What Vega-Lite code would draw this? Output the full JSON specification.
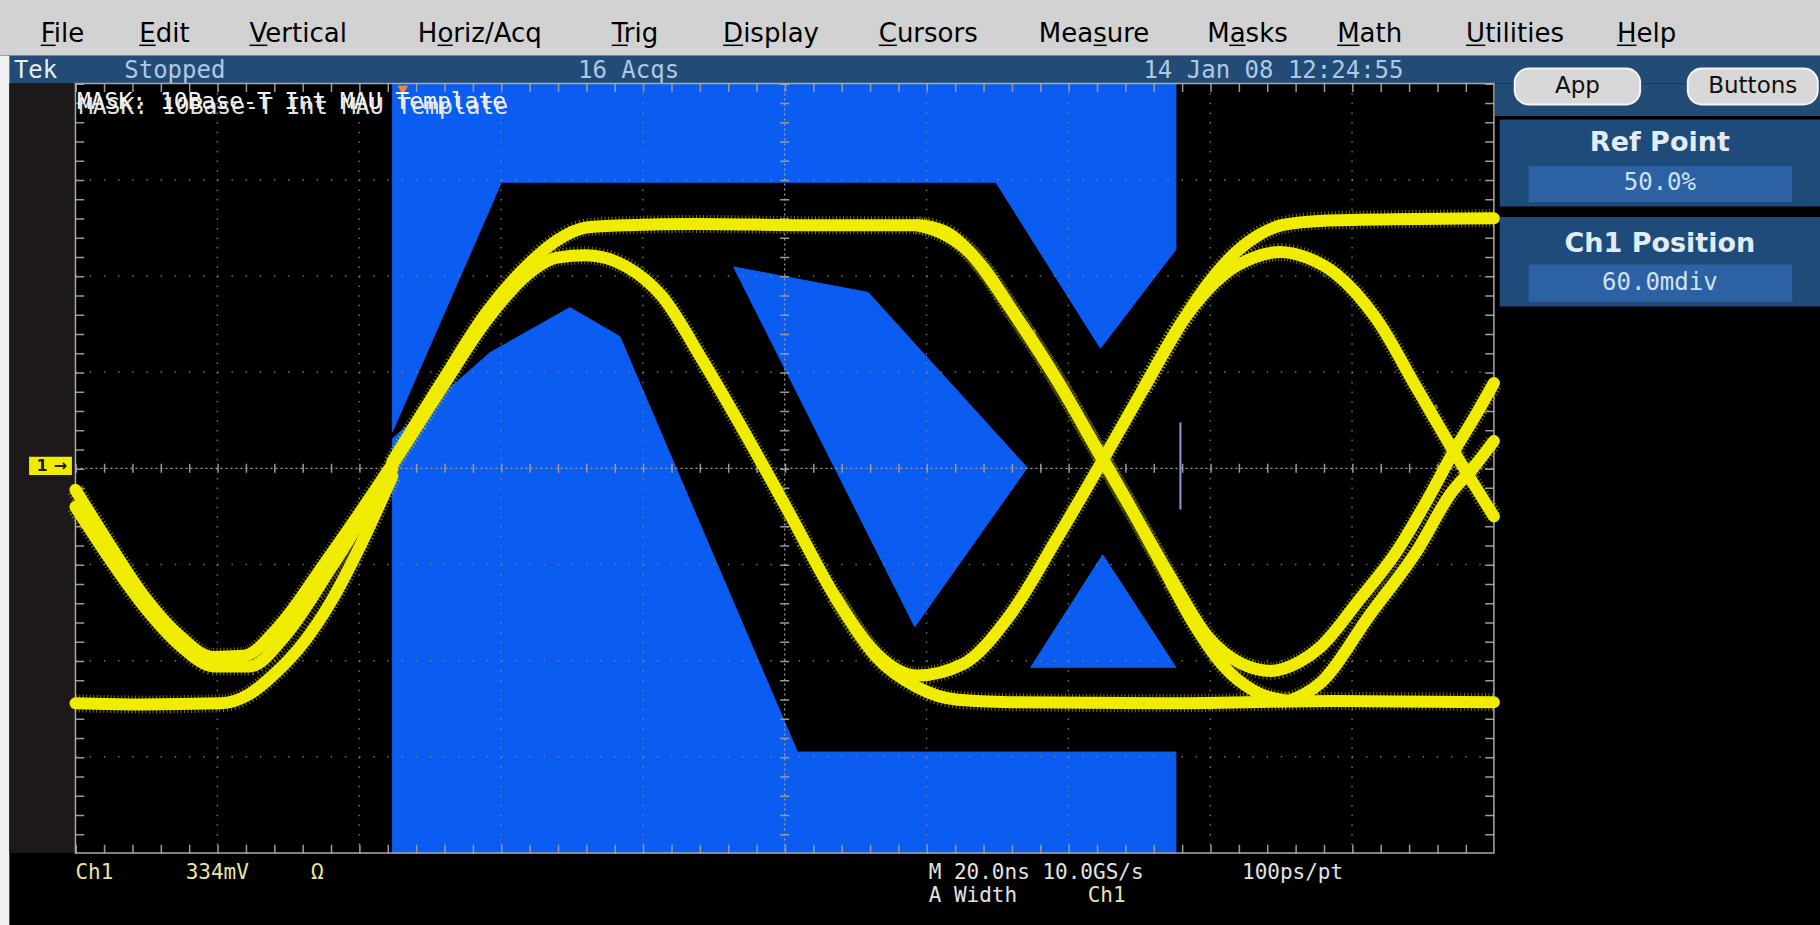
{
  "$schema": "https://vega.github.io/schema/vega-lite/v6.json",
  "width": 1820,
  "height": 925,
  "autosize": {"type": "fit", "contains": "padding"},
  "padding": 0,
  "background": "#000000",
  "config": {"view": {"stroke": null}},
  "datasets": {
    "panels": [
      {"part": "menu bar", "t": -0.532, "t2": 12.299, "v": 4.869, "v2": 4.29},
      {"part": "status bar", "t": -0.532, "t2": 12.299, "v": 4.29, "v2": 4.0},
      {"part": "button strip", "t": 10.008, "t2": 12.299, "v": 4.0, "v2": 3.662},
      {"part": "edge", "t": -0.532, "t2": -0.466, "v": 4.29, "v2": -4.748},
      {"part": "gutter", "t": -0.466, "t2": 0, "v": 4.0, "v2": -4.0},
      {"part": "Ref Point box", "t": 10.041, "t2": 12.299, "v": 3.626, "v2": 2.721},
      {"part": "Ref Point field", "t": 10.245, "t2": 12.103, "v": 3.143, "v2": 2.769},
      {"part": "Ch1 Position box", "t": 10.041, "t2": 12.299, "v": 2.612, "v2": 1.683},
      {"part": "Ch1 Position field", "t": 10.245, "t2": 12.103, "v": 2.118, "v2": 1.732}
    ],
    "pills": [
      {"button": "App", "t": 10.147, "t2": 11.031, "v": 4.157, "v2": 3.783},
      {"button": "Buttons", "t": 11.367, "t2": 12.283, "v": 4.157, "v2": 3.783}
    ],
    "mask": [
      {"shape": "upper", "i": 0, "t": 2.234, "v": 4.0},
      {"shape": "upper", "i": 1, "t": 7.758, "v": 4.0},
      {"shape": "upper", "i": 2, "t": 7.758, "v": 2.275},
      {"shape": "upper", "i": 3, "t": 7.226, "v": 1.249},
      {"shape": "upper", "i": 4, "t": 6.489, "v": 2.974},
      {"shape": "upper", "i": 5, "t": 3.003, "v": 2.974},
      {"shape": "upper", "i": 6, "t": 2.234, "v": 0.38},
      {"shape": "lower", "i": 0, "t": 2.234, "v": 0.308},
      {"shape": "lower", "i": 1, "t": 2.921, "v": 1.201},
      {"shape": "lower", "i": 2, "t": 3.486, "v": 1.671},
      {"shape": "lower", "i": 3, "t": 3.838, "v": 1.37},
      {"shape": "lower", "i": 4, "t": 5.09, "v": -2.95},
      {"shape": "lower", "i": 5, "t": 7.758, "v": -2.95},
      {"shape": "lower", "i": 6, "t": 7.758, "v": -4.0},
      {"shape": "lower", "i": 7, "t": 2.234, "v": -4.0},
      {"shape": "kite", "i": 0, "t": 4.64, "v": 2.094},
      {"shape": "kite", "i": 1, "t": 5.589, "v": 1.828},
      {"shape": "kite", "i": 2, "t": 6.71, "v": 0.006},
      {"shape": "kite", "i": 3, "t": 5.917, "v": -1.647},
      {"shape": "triangle", "i": 0, "t": 6.735, "v": -2.069},
      {"shape": "triangle", "i": 1, "t": 7.242, "v": -0.899},
      {"shape": "triangle", "i": 2, "t": 7.758, "v": -2.069}
    ],
    "traces": [
      {"s": "a", "t": 0, "v": -0.223}, {"s": "a", "t": 0.245, "v": -0.802}, {"s": "a", "t": 0.491, "v": -1.345}, {"s": "a", "t": 0.736, "v": -1.744}, {"s": "a", "t": 0.966, "v": -1.961}, {"s": "a", "t": 1.187, "v": -1.949}, {"s": "a", "t": 1.432, "v": -1.647}, {"s": "a", "t": 1.759, "v": -0.984}, {"s": "a", "t": 2.234, "v": 0.042}, {"s": "a", "t": 2.578, "v": 0.827}, {"s": "a", "t": 2.905, "v": 1.551}, {"s": "a", "t": 3.191, "v": 2.021}, {"s": "a", "t": 3.396, "v": 2.19}, {"s": "a", "t": 3.601, "v": 2.214}, {"s": "a", "t": 3.887, "v": 2.094}, {"s": "a", "t": 4.133, "v": 1.792}, {"s": "a", "t": 4.419, "v": 1.128}, {"s": "a", "t": 4.705, "v": 0.404}, {"s": "a", "t": 5.033, "v": -0.465}, {"s": "a", "t": 5.36, "v": -1.345}, {"s": "a", "t": 5.646, "v": -1.925}, {"s": "a", "t": 5.933, "v": -2.154}, {"s": "a", "t": 6.26, "v": -2.033}, {"s": "a", "t": 6.588, "v": -1.526}, {"s": "a", "t": 6.915, "v": -0.742}, {"s": "a", "t": 7.226, "v": 0.042}, {"s": "a", "t": 7.529, "v": 0.827}, {"s": "a", "t": 7.815, "v": 1.551}, {"s": "a", "t": 8.101, "v": 2.021}, {"s": "a", "t": 8.306, "v": 2.19}, {"s": "a", "t": 8.494, "v": 2.25}, {"s": "a", "t": 8.682, "v": 2.19}, {"s": "a", "t": 8.887, "v": 2.021}, {"s": "a", "t": 9.173, "v": 1.551}, {"s": "a", "t": 9.459, "v": 0.827}, {"s": "a", "t": 9.74, "v": 0.12}, {"s": "a", "t": 10.0, "v": -0.5},
      {"s": "b", "t": 0, "v": -0.4}, {"s": "b", "t": 0.245, "v": -0.95}, {"s": "b", "t": 0.491, "v": -1.45}, {"s": "b", "t": 0.736, "v": -1.84}, {"s": "b", "t": 0.982, "v": -2.06}, {"s": "b", "t": 1.227, "v": -2.06}, {"s": "b", "t": 1.473, "v": -1.75}, {"s": "b", "t": 1.8, "v": -1.04}, {"s": "b", "t": 2.234, "v": 0.0},
      {"s": "c", "t": 0, "v": -2.443}, {"s": "c", "t": 0.45, "v": -2.455}, {"s": "c", "t": 1.023, "v": -2.443}, {"s": "c", "t": 1.227, "v": -2.347}, {"s": "c", "t": 1.391, "v": -2.154}, {"s": "c", "t": 1.612, "v": -1.804}, {"s": "c", "t": 1.8, "v": -1.39}, {"s": "c", "t": 2.01, "v": -0.8}, {"s": "c", "t": 2.234, "v": -0.08},
      {"s": "d", "t": 2.234, "v": 0.066}, {"s": "d", "t": 2.578, "v": 0.887}, {"s": "d", "t": 2.905, "v": 1.635}, {"s": "d", "t": 3.191, "v": 2.118}, {"s": "d", "t": 3.396, "v": 2.371}, {"s": "d", "t": 3.601, "v": 2.504}, {"s": "d", "t": 3.887, "v": 2.528}, {"s": "d", "t": 4.378, "v": 2.54}, {"s": "d", "t": 5.196, "v": 2.528}, {"s": "d", "t": 5.933, "v": 2.528}, {"s": "d", "t": 6.137, "v": 2.455}, {"s": "d", "t": 6.383, "v": 2.118}, {"s": "d", "t": 6.669, "v": 1.49}, {"s": "d", "t": 6.956, "v": 0.827}, {"s": "d", "t": 7.226, "v": 0.127}, {"s": "d", "t": 7.488, "v": -0.537}, {"s": "d", "t": 7.733, "v": -1.164}, {"s": "d", "t": 7.979, "v": -1.744}, {"s": "d", "t": 8.224, "v": -2.033}, {"s": "d", "t": 8.429, "v": -2.106}, {"s": "d", "t": 8.633, "v": -2.009}, {"s": "d", "t": 8.781, "v": -1.852}, {"s": "d", "t": 9.043, "v": -1.382}, {"s": "d", "t": 9.321, "v": -0.851}, {"s": "d", "t": 9.534, "v": -0.32}, {"s": "d", "t": 9.722, "v": 0.187}, {"s": "d", "t": 9.861, "v": 0.525}, {"s": "d", "t": 10.0, "v": 0.887},
      {"s": "e", "t": 5.36, "v": -1.345}, {"s": "e", "t": 5.646, "v": -1.961}, {"s": "e", "t": 5.933, "v": -2.275}, {"s": "e", "t": 6.219, "v": -2.407}, {"s": "e", "t": 6.588, "v": -2.431}, {"s": "e", "t": 7.651, "v": -2.443}, {"s": "e", "t": 8.879, "v": -2.419}, {"s": "e", "t": 10.0, "v": -2.431},
      {"s": "f", "t": 5.933, "v": 2.528}, {"s": "f", "t": 6.1, "v": 2.45}, {"s": "f", "t": 6.3, "v": 2.25}, {"s": "f", "t": 6.571, "v": 1.707}, {"s": "f", "t": 6.874, "v": 1.032}, {"s": "f", "t": 7.16, "v": 0.308}, {"s": "f", "t": 7.406, "v": -0.32}, {"s": "f", "t": 7.651, "v": -0.984}, {"s": "f", "t": 7.897, "v": -1.647}, {"s": "f", "t": 8.101, "v": -2.069}, {"s": "f", "t": 8.306, "v": -2.311}, {"s": "f", "t": 8.552, "v": -2.419},
      {"s": "g", "t": 8.552, "v": -2.419}, {"s": "g", "t": 8.781, "v": -2.226}, {"s": "g", "t": 9.124, "v": -1.526}, {"s": "g", "t": 9.46, "v": -0.851}, {"s": "g", "t": 9.697, "v": -0.259}, {"s": "g", "t": 9.861, "v": 0.018}, {"s": "g", "t": 10.0, "v": 0.284},
      {"s": "h", "t": 7.529, "v": 0.827}, {"s": "h", "t": 7.815, "v": 1.551}, {"s": "h", "t": 8.0, "v": 1.95}, {"s": "h", "t": 8.183, "v": 2.25}, {"s": "h", "t": 8.347, "v": 2.43}, {"s": "h", "t": 8.511, "v": 2.53}, {"s": "h", "t": 8.797, "v": 2.575}, {"s": "h", "t": 9.288, "v": 2.59}, {"s": "h", "t": 10.0, "v": 2.6}
    ],
    "gridV": [
      {"t": 1, "v": 4, "t2": 1, "v2": -4}, {"t": 2, "v": 4, "t2": 2, "v2": -4}, {"t": 3, "v": 4, "t2": 3, "v2": -4}, {"t": 4, "v": 4, "t2": 4, "v2": -4},
      {"t": 6, "v": 4, "t2": 6, "v2": -4}, {"t": 7, "v": 4, "t2": 7, "v2": -4}, {"t": 8, "v": 4, "t2": 8, "v2": -4}, {"t": 9, "v": 4, "t2": 9, "v2": -4}
    ],
    "gridH": [
      {"t": 0, "v": 3, "t2": 10, "v2": 3}, {"t": 0, "v": 2, "t2": 10, "v2": 2}, {"t": 0, "v": 1, "t2": 10, "v2": 1},
      {"t": 0, "v": -1, "t2": 10, "v2": -1}, {"t": 0, "v": -2, "t2": 10, "v2": -2}, {"t": 0, "v": -3, "t2": 10, "v2": -3}
    ],
    "center": [
      {"t": 5, "v": 4, "t2": 5, "v2": -4},
      {"t": 0, "v": 0, "t2": 10, "v2": 0}
    ],
    "ticksH": [
      {"t": 0, "v": 0, "t2": 10, "v2": 0},
      {"t": 0, "v": 3.96, "t2": 10, "v2": 3.96},
      {"t": 0, "v": -3.96, "t2": 10, "v2": -3.96}
    ],
    "ticksV": [
      {"t": 5, "v": 4, "t2": 5, "v2": -4},
      {"t": 0.03, "v": 4, "t2": 0.03, "v2": -4},
      {"t": 9.97, "v": 4, "t2": 9.97, "v2": -4}
    ],
    "frame": [{"t": 0, "t2": 10, "v": 4, "v2": -4}],
    "cursor": [{"t": 7.79, "v": 0.477, "t2": 7.79, "v2": -0.428}],
    "trigger": [{"t": 2.308, "v": 3.93}],
    "marker": [{"t": -0.327, "t2": -0.025, "v": 0.12, "v2": -0.07}],
    "underlines": [
      {"t": -0.245, "t2": -0.14, "v": 4.398, "v2": 4.398},
      {"t": 0.45, "t2": 0.565, "v": 4.398, "v2": 4.398},
      {"t": 1.227, "t2": 1.353, "v": 4.398, "v2": 4.398},
      {"t": 2.553, "t2": 2.66, "v": 4.398, "v2": 4.398},
      {"t": 3.781, "t2": 3.893, "v": 4.398, "v2": 4.398},
      {"t": 4.566, "t2": 4.707, "v": 4.398, "v2": 4.398},
      {"t": 5.663, "t2": 5.791, "v": 4.398, "v2": 4.398},
      {"t": 7.177, "t2": 7.271, "v": 4.398, "v2": 4.398},
      {"t": 8.134, "t2": 8.249, "v": 4.398, "v2": 4.398},
      {"t": 8.895, "t2": 9.053, "v": 4.398, "v2": 4.398},
      {"t": 9.804, "t2": 9.939, "v": 4.398, "v2": 4.398},
      {"t": 10.867, "t2": 11.005, "v": 4.398, "v2": 4.398}
    ],
    "labels": [
      {"k": "menu", "label": "File", "t": -0.2455, "v": 4.434},
      {"k": "menu", "label": "Edit", "t": 0.45, "v": 4.434},
      {"k": "menu", "label": "Vertical", "t": 1.2275, "v": 4.434},
      {"k": "menu", "label": "Horiz/Acq", "t": 2.414, "v": 4.434},
      {"k": "menu", "label": "Trig", "t": 3.781, "v": 4.434},
      {"k": "menu", "label": "Display", "t": 4.566, "v": 4.434},
      {"k": "menu", "label": "Cursors", "t": 5.663, "v": 4.434},
      {"k": "menu", "label": "Measure", "t": 6.792, "v": 4.434},
      {"k": "menu", "label": "Masks", "t": 7.979, "v": 4.434},
      {"k": "menu", "label": "Math", "t": 8.895, "v": 4.434},
      {"k": "menu", "label": "Utilities", "t": 9.804, "v": 4.434},
      {"k": "menu", "label": "Help", "t": 10.867, "v": 4.434},
      {"k": "tek", "label": "Tek", "t": -0.434, "v": 4.133},
      {"k": "status", "label": "Stopped", "t": 0.344, "v": 4.133},
      {"k": "status", "label": "16 Acqs", "t": 3.543, "v": 4.133},
      {"k": "status", "label": "14 Jan 08 12:24:55", "t": 7.529, "v": 4.133},
      {"k": "mask", "label": "MASK: 10Base-T Int MAU Template", "t": 0.01, "v": 3.805},
      {"k": "plabel", "label": "Ref Point", "t": 11.17, "v": 3.384},
      {"k": "plabel", "label": "Ch1 Position", "t": 11.17, "v": 2.335},
      {"k": "pvalue", "label": "50.0%", "t": 11.17, "v": 2.962},
      {"k": "pvalue", "label": "60.0mdiv", "t": 11.17, "v": 1.925},
      {"k": "pill", "label": "App", "t": 10.589, "v": 3.97},
      {"k": "pill", "label": "Buttons", "t": 11.825, "v": 3.97},
      {"k": "ry", "label": "Ch1", "t": 0.0, "v": -4.205},
      {"k": "ry", "label": "334mV", "t": 0.777, "v": -4.205},
      {"k": "ry", "label": "Ω", "t": 1.661, "v": -4.205},
      {"k": "ry", "label": "Ch1", "t": 7.136, "v": -4.447},
      {"k": "rw", "label": "M 20.0ns 10.0GS/s", "t": 6.015, "v": -4.205},
      {"k": "rw", "label": "100ps/pt", "t": 8.224, "v": -4.205},
      {"k": "rw", "label": "A Width", "t": 6.015, "v": -4.447},
      {"k": "mk", "label": "1", "t": -0.235, "v": 0.025},
      {"k": "mk", "label": "→", "t": -0.105, "v": 0.025}
    ]
  },
  "encoding": {
    "x": {"field": "t", "type": "quantitative", "scale": {"domain": [-0.532, 12.299], "nice": false, "zero": false}, "axis": null},
    "y": {"field": "v", "type": "quantitative", "scale": {"domain": [-4.748, 4.869], "nice": false, "zero": false}, "axis": null}
  },
  "layer": [
    {
      "data": {"name": "panels"},
      "mark": {"type": "rect"},
      "encoding": {
        "x2": {"field": "t2"}, "y2": {"field": "v2"},
        "color": {"field": "part", "type": "nominal", "legend": null,
          "scale": {"domain": ["menu bar", "status bar", "button strip", "edge", "gutter", "Ref Point box", "Ref Point field", "Ch1 Position box", "Ch1 Position field"],
                    "range": ["#d2d2d2", "#224c75", "#224c75", "#f0f0f0", "#1d191a", "#1f4b7a", "#2c62a3", "#1f4b7a", "#2c62a3"]}}
      }
    },
    {
      "data": {"name": "pills"},
      "mark": {"type": "rect", "cornerRadius": 14, "fill": "#d8d8d8", "stroke": "#f4f4f4", "strokeWidth": 2},
      "encoding": {"x2": {"field": "t2"}, "y2": {"field": "v2"}}
    },
    {
      "data": {"name": "mask"},
      "mark": {"type": "line", "interpolate": "linear-closed", "fill": "#0b5cf0", "stroke": "#0b5cf0", "strokeWidth": 1},
      "encoding": {"detail": {"field": "shape"}, "order": {"field": "i", "type": "quantitative"}}
    },
    {
      "data": {"name": "gridV"},
      "mark": {"type": "rule", "color": "#8a8a8a", "strokeWidth": 1.5, "strokeDash": [1.5, 8.12], "opacity": 0.8},
      "encoding": {"x2": {"field": "t2"}, "y2": {"field": "v2"}}
    },
    {
      "data": {"name": "gridH"},
      "mark": {"type": "rule", "color": "#8a8a8a", "strokeWidth": 1.5, "strokeDash": [1.5, 12.68], "opacity": 0.8},
      "encoding": {"x2": {"field": "t2"}, "y2": {"field": "v2"}}
    },
    {
      "data": {"name": "center"},
      "mark": {"type": "rule", "color": "#a0a0a0", "strokeWidth": 1.2, "strokeDash": [2, 3]},
      "encoding": {"x2": {"field": "t2"}, "y2": {"field": "v2"}}
    },
    {
      "data": {"name": "ticksH"},
      "mark": {"type": "rule", "color": "#9a9a9a", "strokeWidth": 9, "strokeDash": [1.5, 26.87]},
      "encoding": {"x2": {"field": "t2"}, "y2": {"field": "v2"}}
    },
    {
      "data": {"name": "ticksV"},
      "mark": {"type": "rule", "color": "#9a9a9a", "strokeWidth": 9, "strokeDash": [1.5, 17.74]},
      "encoding": {"x2": {"field": "t2"}, "y2": {"field": "v2"}}
    },
    {
      "data": {"name": "frame"},
      "mark": {"type": "rect", "fillOpacity": 0, "stroke": "#a9a9a9", "strokeWidth": 1.5},
      "encoding": {"x2": {"field": "t2"}, "y2": {"field": "v2"}}
    },
    {
      "data": {"name": "traces"},
      "mark": {"type": "line", "interpolate": "monotone", "color": "#ece800", "strokeWidth": 18, "strokeDash": [1, 2.5], "opacity": 0.5, "strokeCap": "butt", "strokeJoin": "round"},
      "encoding": {"detail": {"field": "s"}}
    },
    {
      "data": {"name": "traces"},
      "mark": {"type": "line", "interpolate": "monotone", "color": "#f0ec00", "strokeWidth": 12, "strokeCap": "round", "strokeJoin": "round"},
      "encoding": {"detail": {"field": "s"}}
    },
    {
      "data": {"name": "cursor"},
      "mark": {"type": "rule", "color": "#8c9ccc", "strokeWidth": 2},
      "encoding": {"x2": {"field": "t2"}, "y2": {"field": "v2"}}
    },
    {
      "data": {"name": "trigger"},
      "mark": {"type": "point", "shape": "triangle-down", "filled": true, "color": "#f08a2c", "size": 110, "opacity": 1}
    },
    {
      "data": {"name": "marker"},
      "mark": {"type": "rect", "fill": "#f0ec00"},
      "encoding": {"x2": {"field": "t2"}, "y2": {"field": "v2"}}
    },
    {
      "data": {"name": "underlines"},
      "mark": {"type": "rule", "color": "#000000", "strokeWidth": 1.5},
      "encoding": {"x2": {"field": "t2"}, "y2": {"field": "v2"}}
    },
    {
      "data": {"name": "labels"},
      "transform": [{"filter": {"field": "k", "equal": "menu"}}],
      "mark": {"type": "text", "font": "DejaVu Sans", "fontSize": 26, "align": "left", "baseline": "alphabetic", "color": "#000000"},
      "encoding": {"text": {"field": "label"}}
    },
    {
      "data": {"name": "labels"},
      "transform": [{"filter": {"field": "k", "equal": "tek"}}],
      "mark": {"type": "text", "font": "DejaVu Sans Mono", "fontSize": 24, "align": "left", "baseline": "middle", "color": "#e6edf5"},
      "encoding": {"text": {"field": "label"}}
    },
    {
      "data": {"name": "labels"},
      "transform": [{"filter": {"field": "k", "equal": "status"}}],
      "mark": {"type": "text", "font": "DejaVu Sans Mono", "fontSize": 24, "align": "left", "baseline": "middle", "color": "#aec9e4"},
      "encoding": {"text": {"field": "label"}}
    },
    {
      "data": {"name": "labels"},
      "transform": [{"filter": {"field": "k", "equal": "mask"}}],
      "mark": {"type": "text", "font": "DejaVu Sans Mono", "fontSize": 23, "align": "left", "baseline": "middle", "color": "#e4e4e4", "dx": 2, "dy": 5},
      "encoding": {"text": {"field": "label"}}
    },
    {
      "data": {"name": "labels"},
      "transform": [{"filter": {"field": "k", "equal": "mask"}}],
      "mark": {"type": "text", "font": "DejaVu Sans Mono", "fontSize": 23, "align": "left", "baseline": "middle", "color": "#f4f4f4"},
      "encoding": {"text": {"field": "label"}}
    },
    {
      "data": {"name": "labels"},
      "transform": [{"filter": {"field": "k", "equal": "plabel"}}],
      "mark": {"type": "text", "font": "DejaVu Sans", "fontWeight": "bold", "fontSize": 27, "align": "center", "baseline": "middle", "color": "#e2ecf6"},
      "encoding": {"text": {"field": "label"}}
    },
    {
      "data": {"name": "labels"},
      "transform": [{"filter": {"field": "k", "equal": "pvalue"}}],
      "mark": {"type": "text", "font": "DejaVu Sans Mono", "fontSize": 24, "align": "center", "baseline": "middle", "color": "#cfe1f3"},
      "encoding": {"text": {"field": "label"}}
    },
    {
      "data": {"name": "labels"},
      "transform": [{"filter": {"field": "k", "equal": "pill"}}],
      "mark": {"type": "text", "font": "DejaVu Sans", "fontSize": 23, "align": "center", "baseline": "middle", "color": "#111111"},
      "encoding": {"text": {"field": "label"}}
    },
    {
      "data": {"name": "labels"},
      "transform": [{"filter": {"field": "k", "equal": "ry"}}],
      "mark": {"type": "text", "font": "DejaVu Sans Mono", "fontSize": 21, "align": "left", "baseline": "middle", "color": "#ebe5a5"},
      "encoding": {"text": {"field": "label"}}
    },
    {
      "data": {"name": "labels"},
      "transform": [{"filter": {"field": "k", "equal": "rw"}}],
      "mark": {"type": "text", "font": "DejaVu Sans Mono", "fontSize": 21, "align": "left", "baseline": "middle", "color": "#e2e2e2"},
      "encoding": {"text": {"field": "label"}}
    },
    {
      "data": {"name": "labels"},
      "transform": [{"filter": {"field": "k", "equal": "mk"}}],
      "mark": {"type": "text", "font": "DejaVu Sans", "fontWeight": "bold", "fontSize": 16, "align": "center", "baseline": "middle", "color": "#1a1a1a"},
      "encoding": {"text": {"field": "label"}}
    }
  ],
  "resolve": {"scale": {"color": "independent"}}
}
